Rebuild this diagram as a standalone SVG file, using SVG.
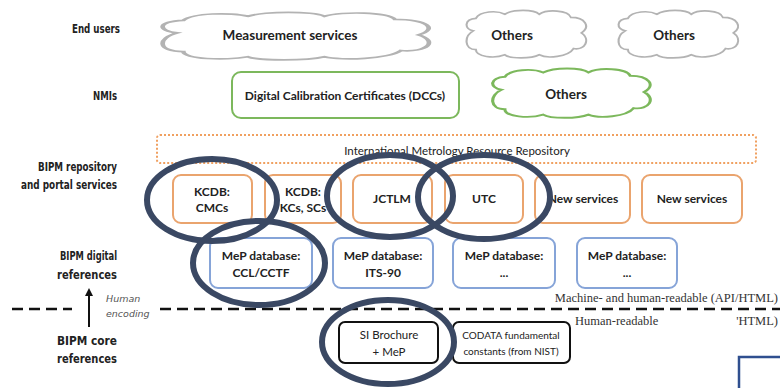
<svg xmlns="http://www.w3.org/2000/svg" width="780" height="388" viewBox="0 0 780 388">
<defs>
<path id="cloud" d="M10,22 C3,20 3,11 12,10 C15,3 28,2 34,6 C40,1 56,1 60,6 C66,1 82,2 84,9 C95,9 99,18 92,24 C99,30 95,41 86,39 C82,47 66,49 60,45 C54,49 38,49 34,45 C26,49 12,47 12,40 C3,40 3,27 10,22 Z"/>
<marker id="arr" viewBox="0 0 10 10" refX="5" refY="5" markerWidth="4" markerHeight="4" orient="auto">
<path d="M0,0 L10,5 L0,10 Z" fill="#111"/>
</marker>
</defs>
<style>
.lbl{font-family:"Liberation Sans Narrow","DejaVu Sans Condensed","Liberation Sans",sans-serif;font-weight:bold;font-size:12px;fill:#222;text-anchor:end}
.it{font-family:"DejaVu Sans","Liberation Sans",sans-serif;font-style:italic;font-size:9.5px;fill:#555}
.t{font-family:Lato,"Open Sans","Liberation Sans",sans-serif;font-weight:bold;font-size:12px;fill:#222;text-anchor:middle}
.tc{font-family:Lato,"Open Sans","Liberation Sans",sans-serif;font-weight:bold;font-size:13.5px;fill:#222;text-anchor:middle}
.tr{font-family:Lato,"Open Sans","Liberation Sans",sans-serif;font-size:11.5px;fill:#222;text-anchor:middle}
.ts{font-family:Lato,"Open Sans","Liberation Sans",sans-serif;font-size:10px;fill:#222;text-anchor:middle}
.ser{font-family:"Liberation Serif",serif;font-size:12.5px;fill:#333}
.cl{fill:#fff;stroke:#b3b3b3;stroke-width:1.6}
.clg{fill:#fff;stroke:#7cb85c;stroke-width:1.8}
.or{fill:#fff;stroke:#eaa46e;stroke-width:2}
.bl{fill:#fff;stroke:#86a4d8;stroke-width:2}
.bk{fill:#fff;stroke:#111;stroke-width:2}
.ell{fill:none;stroke:#3a4863;stroke-width:6}
</style>
<rect width="780" height="388" fill="#fff"/>

<g id="labels">
<text class="lbl" x="120" y="33" textLength="48" lengthAdjust="spacingAndGlyphs">End users</text>
<text class="lbl" x="117" y="100" textLength="24" lengthAdjust="spacingAndGlyphs">NMIs</text>
<text class="lbl" x="117" y="171" textLength="79" lengthAdjust="spacingAndGlyphs">BIPM repository</text>
<text class="lbl" x="117" y="189" textLength="96" lengthAdjust="spacingAndGlyphs">and portal services</text>
<text class="lbl" x="117" y="260" textLength="57" lengthAdjust="spacingAndGlyphs">BIPM digital</text>
<text class="lbl" x="117" y="279" textLength="60" lengthAdjust="spacingAndGlyphs">references</text>
<text class="lbl" x="117" y="345" textLength="60" lengthAdjust="spacingAndGlyphs">BIPM core</text>
<text class="lbl" x="117" y="363" textLength="60" lengthAdjust="spacingAndGlyphs">references</text>
<text class="it" x="106" y="302">Human</text>
<text class="it" x="106" y="317">encoding</text>
</g>

<g id="connectors">
<line x1="89" y1="327" x2="89" y2="292" stroke="#111" stroke-width="2" marker-end="url(#arr)"/>
<line x1="12" y1="309" x2="72" y2="309" stroke="#111" stroke-width="2.5" stroke-dasharray="11 6"/>
<line x1="160" y1="309" x2="780" y2="309" stroke="#111" stroke-width="2.5" stroke-dasharray="11 6"/>
</g>

<g id="cloud-measurement">
<use href="#cloud" class="cl" transform="translate(148,10) scale(2.94,1.04)" style="vector-effect:non-scaling-stroke"/>
<text class="tc" x="290" y="40">Measurement services</text>
</g>
<g id="cloud-others1">
<use href="#cloud" class="cl" transform="translate(460,8) scale(1.32,1.04)" style="vector-effect:non-scaling-stroke"/>
<text class="tc" x="512" y="40">Others</text>
</g>
<g id="cloud-others2">
<use href="#cloud" class="cl" transform="translate(612,8) scale(1.32,1.04)" style="vector-effect:non-scaling-stroke"/>
<text class="tc" x="674" y="40">Others</text>
</g>
<g id="cloud-nmi-others">
<use href="#cloud" class="clg" transform="translate(484,66) scale(1.74,1.08)" style="vector-effect:non-scaling-stroke"/>
<text class="tc" x="566" y="99">Others</text>
</g>

<g id="dcc">
<rect x="232" y="72" width="227" height="46" rx="9" fill="#fff" stroke="#7cb85c" stroke-width="2"/>
<text class="t" x="345" y="100">Digital Calibration Certificates (DCCs)</text>
</g>

<g id="imrr">
<rect x="157" y="135" width="599" height="28" rx="3" fill="#fff" stroke="#f0a060" stroke-width="2" stroke-dasharray="2 2"/>
<text class="tr" x="457" y="155">International Metrology Resource Repository</text>
</g>

<g id="kcdb-cmcs">
<rect class="or" x="173" y="175" width="79" height="48" rx="8"/>
<text class="t" x="212" y="196">KCDB:</text>
<text class="t" x="212" y="212">CMCs</text>
</g>
<g id="kcdb-kcs">
<rect class="or" x="265" y="175" width="76" height="48" rx="8"/>
<text class="t" x="303" y="196">KCDB:</text>
<text class="t" x="303" y="212">KCs, SCs</text>
</g>
<g id="jctlm">
<rect class="or" x="353" y="175" width="79" height="48" rx="8"/>
<text class="t" x="392" y="203">JCTLM</text>
</g>
<g id="utc">
<rect class="or" x="445" y="175" width="78" height="48" rx="8"/>
<text class="t" x="484" y="203">UTC</text>
</g>
<g id="new1">
<rect class="or" x="535" y="175" width="95" height="48" rx="8"/>
<text class="t" x="583" y="203">New services</text>
</g>
<g id="new2">
<rect class="or" x="642" y="175" width="100" height="48" rx="8"/>
<text class="t" x="692" y="203">New services</text>
</g>

<g id="mep-ccl">
<rect class="bl" x="210" y="238" width="102" height="50" rx="8"/>
<text class="t" x="261" y="260">MeP database:</text>
<text class="t" x="261" y="277">CCL/CCTF</text>
</g>
<g id="mep-its">
<rect class="bl" x="333" y="238" width="100" height="50" rx="8"/>
<text class="t" x="383" y="260">MeP database:</text>
<text class="t" x="383" y="277">ITS-90</text>
</g>
<g id="mep-3">
<rect class="bl" x="453" y="238" width="102" height="50" rx="8"/>
<text class="t" x="504" y="260">MeP database:</text>
<text class="t" x="504" y="277">...</text>
</g>
<g id="mep-4">
<rect class="bl" x="577" y="238" width="100" height="50" rx="8"/>
<text class="t" x="627" y="260">MeP database:</text>
<text class="t" x="627" y="277">...</text>
</g>

<g id="readability">
<text class="ser" x="778" y="302" text-anchor="end">Machine- and human-readable (API/HTML)</text>
<text class="ser" x="575" y="325">Human-readable</text>
<text class="ser" x="778" y="325" text-anchor="end">'HTML)</text>
</g>

<g id="si-brochure">
<rect class="bk" x="339" y="322" width="99" height="41" rx="6"/>
<text class="tr" x="389" y="339">SI Brochure</text>
<text class="tr" x="389" y="356">+ MeP</text>
</g>
<g id="codata">
<rect class="bk" x="453" y="322" width="117" height="41" rx="6"/>
<text class="ts" x="511" y="339">CODATA fundamental</text>
<text class="ts" x="511" y="355">constants (from NIST)</text>
</g>

<g id="corner-box">
<rect x="739" y="357" width="50" height="40" fill="#fff" stroke="#2f4f8f" stroke-width="2.5"/>
</g>

<g id="highlights">
<ellipse class="ell" cx="212" cy="200" rx="65" ry="41"/>
<ellipse class="ell" cx="259" cy="263" rx="66" ry="42"/>
<ellipse class="ell" cx="390" cy="196" rx="63" ry="41"/>
<ellipse class="ell" cx="484" cy="197" rx="66" ry="42"/>
<ellipse class="ell" cx="388" cy="342" rx="66" ry="42"/>
</g>
</svg>
